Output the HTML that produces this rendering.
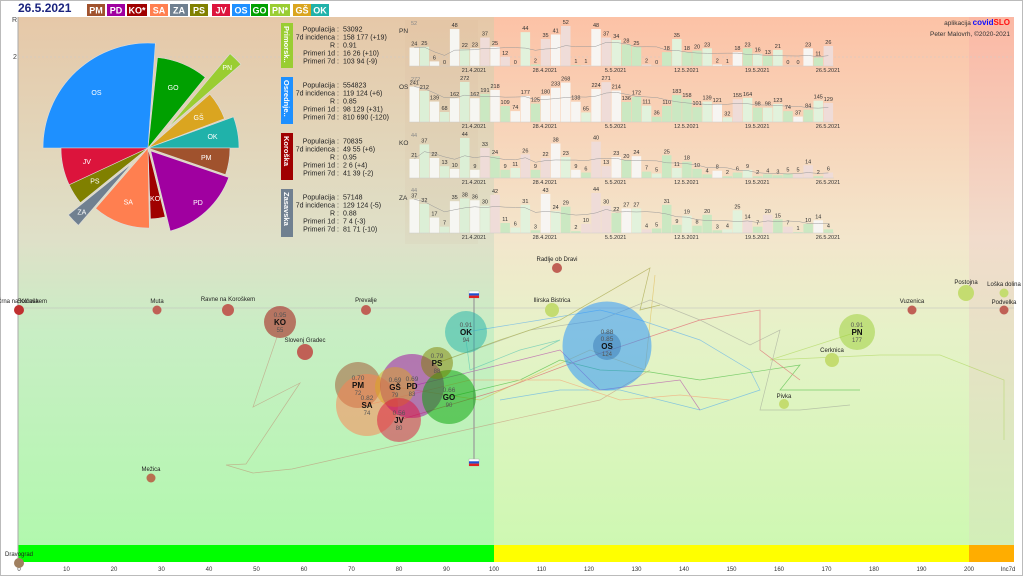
<!DOCTYPE html>
<html><head><meta charset="utf-8"><style>
html,body{margin:0;padding:0;background:#fff;width:1024px;height:576px;overflow:hidden}
svg{display:block;font-family:"Liberation Sans",sans-serif}
</style></head><body>
<svg id="s" width="1024" height="576" viewBox="0 0 1024 576" xmlns="http://www.w3.org/2000/svg">
<defs>
<linearGradient id="gl" x1="0" y1="0" x2="0" y2="1">
<stop offset="0" stop-color="#e6c8a8"/><stop offset="0.42" stop-color="#dfe0c8"/><stop offset="0.6" stop-color="#c8eec4"/><stop offset="1" stop-color="#b2f8ae"/></linearGradient>
<linearGradient id="gr" x1="0" y1="0" x2="0" y2="1">
<stop offset="0" stop-color="#fcc2a6"/><stop offset="0.42" stop-color="#f3e6cc"/><stop offset="0.6" stop-color="#e6f2c8"/><stop offset="1" stop-color="#cef8b2"/></linearGradient>
<linearGradient id="gx" x1="0" y1="0" x2="0" y2="1">
<stop offset="0" stop-color="#fbb8a4"/><stop offset="0.42" stop-color="#f1dccc"/><stop offset="1" stop-color="#d2eeb8"/></linearGradient>
</defs>
<rect x="0.5" y="0.5" width="1022" height="575" fill="#fff" stroke="#bbb"/>
<rect x="18" y="17" width="476" height="528" fill="url(#gl)"/>
<rect x="494" y="17" width="475" height="528" fill="url(#gr)"/>
<rect x="969" y="17" width="45" height="528" fill="url(#gx)"/>
<rect x="18" y="545" width="476" height="17" fill="#00ff00"/>
<rect x="494" y="545" width="475" height="17" fill="#ffff00"/>
<rect x="969" y="545" width="45" height="17" fill="#ffad00"/>
<line x1="18" y1="17" x2="18" y2="562" stroke="#aaa"/>
<line x1="18" y1="57" x2="1014" y2="57" stroke="#ccc" stroke-dasharray="2,2" stroke-width="0.6"/>
<line x1="18" y1="308" x2="1014" y2="308" stroke="#bbb" stroke-width="0.6"/>
<text x="12" y="22" font-size="7" fill="#444">R</text>
<text x="13" y="59" font-size="7" fill="#444">2</text>
<g font-size="6" fill="#333" text-anchor="middle" id="ticks"></g>
<text x="18" y="12" font-size="12" font-weight="bold" fill="#1a237e">26.5.2021</text>
<g id="chips" font-size="9" font-weight="bold" fill="#fff" text-anchor="middle"></g>
<g id="pie"></g>
<g id="bars" font-size="5.5"></g>
<g font-size="7.5" font-weight="bold" fill="#fff">
<rect x="281" y="23" width="12" height="45" fill="#9acd32"/><text transform="translate(284,26) rotate(90)">Primorsk..</text>
<rect x="281" y="77" width="12" height="47" fill="#1e90ff"/><text transform="translate(284,80) rotate(90)">Osrednje..</text>
<rect x="281" y="133" width="12" height="47" fill="#a00000"/><text transform="translate(284,136) rotate(90)">Koroška</text>
<rect x="281" y="189" width="12" height="48" fill="#708090"/><text transform="translate(284,192) rotate(90)">Zasavska</text>
</g>
<g font-size="7" fill="#222" id="info"></g>
<text x="1010" y="25" font-size="6.5" fill="#333" text-anchor="end">aplikacija <tspan fill="#1010ff" font-weight="bold" font-size="8">covid</tspan><tspan fill="#ff1010" font-weight="bold" font-size="8">SLO</tspan></text>
<text x="1010" y="36" font-size="6.5" fill="#333" text-anchor="end">Peter Malovrh, ©2020-2021</text>
<g fill="none" stroke-width="0.7" opacity="0.45">
<polyline stroke="#c07060" points="277,337 253,407 300,383 246,464 226,465 253,473 292,469 420,440 600,400 650,370"/>
<polyline stroke="#9acd32" points="857,332 770,360 880,355 940,355 1004,380 1004,440"/>
<polyline stroke="#daa520" points="655,275 645,370 590,350 480,400 395,387"/>
<polyline stroke="#1e90ff" points="466,332 540,320 600,310 640,320 700,340 750,370 760,390 700,410 620,390 560,390 500,400"/>
<polyline stroke="#00a000" points="449,397 520,380 560,360 600,370 650,372 700,380 800,365 780,390 860,390"/>
<polyline stroke="#888" points="437,363 530,330 600,320 650,300 700,320 750,345 780,330 760,410 800,410 850,405"/>
<polyline stroke="#dc143c" points="399,420 500,390 580,360 700,320 760,310 760,350 800,380"/>
<polyline stroke="#a000a0" points="412,386 520,360 560,350 600,390 680,380 700,410"/>
<polyline stroke="#ff7f50" points="367,405 470,380 560,380 620,400 680,395 730,400"/>
<polyline stroke="#20b2aa" points="466,340 470,370 520,350 560,340 540,350"/>
<polyline stroke="#808000" points="437,363 500,340 560,320 650,268 640,310 660,305"/>
</g>
<line x1="474" y1="297" x2="474" y2="462" stroke="#999" stroke-width="1.2"/>
<g><rect x="469" y="291" width="10" height="7" fill="#fff" stroke="#aaa" stroke-width=".4"/><rect x="469" y="293.3" width="10" height="2.3" fill="#1e50d0"/><rect x="469" y="295.6" width="10" height="2.4" fill="#e02020"/></g>
<g><rect x="469" y="459" width="10" height="7" fill="#fff" stroke="#aaa" stroke-width=".4"/><rect x="469" y="461.3" width="10" height="2.3" fill="#1e50d0"/><rect x="469" y="463.6" width="10" height="2.4" fill="#e02020"/></g>
<g font-size="6" fill="#222" text-anchor="middle">
<circle cx="19" cy="310" r="5" fill="#c03030"/><text x="22" y="303">Črna na Koroškem</text><text x="28" y="303">Solčava</text>
<circle cx="157" cy="310" r="4.5" fill="#c06055"/><text x="157" y="303">Muta</text>
<circle cx="228" cy="310" r="6" fill="#c06055"/><text x="228" y="301">Ravne na Koroškem</text>
<circle cx="366" cy="310" r="5" fill="#c06055"/><text x="366" y="302">Prevalje</text>
<circle cx="305" cy="352" r="8" fill="#c06055"/><text x="305" y="342">Slovenj Gradec</text>
<circle cx="151" cy="478" r="4.5" fill="#b87050"/><text x="151" y="471">Mežica</text>
<circle cx="19" cy="563" r="5" fill="#a08060"/><text x="19" y="556">Dravograd</text>
<circle cx="557" cy="268" r="5" fill="#c06055"/><text x="557" y="261">Radlje ob Dravi</text>
<circle cx="552" cy="310" r="7" fill="#c4dc70"/><text x="552" y="302">Ilirska Bistrica</text>
<circle cx="912" cy="310" r="4.5" fill="#c06055"/><text x="912" y="303">Vuzenica</text>
<circle cx="966" cy="293" r="8" fill="#c4dc70"/><text x="966" y="284">Postojna</text>
<circle cx="1004" cy="293" r="4.5" fill="#c4dc70"/><text x="1004" y="286">Loška dolina</text>
<circle cx="1004" cy="310" r="4.5" fill="#c06055"/><text x="1004" y="304">Podvelka</text>
<circle cx="832" cy="360" r="7" fill="#c4dc70"/><text x="832" y="352">Cerknica</text>
<circle cx="784" cy="404" r="5" fill="#c4dc70"/><text x="784" y="398">Pivka</text>
</g>
<g id="bub" text-anchor="middle"></g>
<text x="1008" y="571" font-size="6" fill="#333" text-anchor="middle">Inc7d</text>
</svg>
<script>
var NS="http://www.w3.org/2000/svg";
function el(p,t,a,txt){var e=document.createElementNS(NS,t);for(var k in a)e.setAttribute(k,a[k]);if(txt!=null)e.textContent=txt;p.appendChild(e);return e;}
var $=function(i){return document.getElementById(i)};
for(var v=0;v<=200;v+=10){el($("ticks"),"text",{x:19+v*4.75,y:571},String(v));}
var chips=[["PM","#a0522d",87,105],["PD","#a000a0",107,125],["KO*","#a00000",127,147],["SA","#ff7f50",150,168],["ZA","#708090",170,188],["PS","#808000",190,208],["JV","#dc143c",212,230],["OS","#1e90ff",232,250],["GO","#00a000",251,268],["PN*","#9acd32",270,290],["GŠ","#daa520",293,311],["OK","#20b2aa",311,329]];
chips.forEach(function(c){el($("chips"),"rect",{x:c[2],y:4,width:c[3]-c[2],height:12,fill:c[1]});el($("chips"),"text",{x:(c[2]+c[3])/2,y:13.5},c[0]);});
var cx=148,cy=148;
var w=[["OS","#1e90ff",180,274,105,0],["GO","#00a000",276,309,91,0],["PN","#9acd32",311,318,125,28],["GŠ","#daa520",319,339,82,0],["OK","#20b2aa",340,360,91,0],["PM","#a0522d",0,19,82,0],["PD","#a000a0",20,75,86,4],["KO","#a00000",76,88,71,0],["SA","#ff7f50",89,131,80,0],["ZA","#708090",132,140,104,22],["PS","#808000",141,155,87,0],["JV","#dc143c",155,180,87,0]];
w.forEach(function(d){var a0=d[2]*Math.PI/180,a1=d[3]*Math.PI/180,r=d[4],e=d[5],am=(a0+a1)/2;
var ox=cx+e*Math.cos(am),oy=cy+e*Math.sin(am);
var p="M"+ox+","+oy+" L"+(cx+r*Math.cos(a0))+","+(cy+r*Math.sin(a0))+" A"+r+","+r+" 0 0 1 "+(cx+r*Math.cos(a1))+","+(cy+r*Math.sin(a1))+" Z";
el($("pie"),"path",{d:p,fill:d[1],stroke:"#ddd","stroke-width":0.6});
var lr=e?r-12:r*0.72;el($("pie"),"text",{x:cx+lr*Math.cos(am),y:cy+lr*Math.sin(am)+2.5,"font-size":7,fill:"#fff","text-anchor":"middle"},d[0]);});
var info=[[29,["53092","158 177 (+19)","0.91","16 26 (+10)","103 94 (-9)"]],[85,["554823","119 124 (+6)","0.85","98 129 (+31)","810 690 (-120)"]],[141,["70835","49 55 (+6)","0.95","2 6 (+4)","41 39 (-2)"]],[197,["57148","129 124 (-5)","0.88","7 4 (-3)","81 71 (-10)"]]];
var labs=["Populacija","7d incidenca","R","Primeri 1d","Primeri 7d"];
info.forEach(function(b){for(var i=0;i<5;i++){var y=b[0]+i*8;el($("info"),"text",{x:335,y:y+2.5,"text-anchor":"end"},labs[i]);el($("info"),"text",{x:337,y:y+2.5},":");el($("info"),"text",{x:343,y:y+2.5},b[1][i]);}});
var rows=[["PN",66,52,[24,25,6,0,48,22,23,37,25,12,0,44,2,35,41,52,1,1,48,37,34,28,25,2,0,18,35,18,20,23,2,1,18,23,16,13,21,0,0,23,11,26]],
["OS",122,272,[241,212,139,68,162,272,162,191,218,109,74,177,125,180,233,268,138,65,224,271,214,136,172,111,36,110,183,158,101,139,121,32,155,164,98,98,123,74,37,84,145,129]],
["KO",178,44,[21,37,22,13,10,44,9,33,24,9,11,26,9,22,38,23,9,6,40,13,23,20,24,7,5,25,11,18,10,4,8,2,6,9,2,4,3,5,5,14,2,6]],
["ZA",233,44,[37,32,17,7,35,38,36,30,42,11,6,31,3,43,24,29,2,10,44,30,22,27,27,4,5,31,9,19,8,20,3,4,25,14,7,20,15,7,1,10,14,4]]];
var B=$("bars");
el(B,"rect",{x:405,y:20,width:73,height:224,fill:"#c8a888",opacity:0.08});
var dates=["21.4.2021","28.4.2021","5.5.2021","12.5.2021","19.5.2021","26.5.2021"];
rows.forEach(function(r){var base=r[1],mx=r[2],v=r[3],sc=40/mx;
el(B,"text",{x:399,y:base-33,"font-size":6.5,fill:"#333"},r[0]);
el(B,"text",{x:411,y:base-41,fill:"#888"},String(mx));
var pts=[];
v.forEach(function(x,i){var bx=409.5+i*10.1,h=x*sc,c;
if(i<7)c=(i%2?"#dcefd6":"#f6f6f2");else{var p=v[i-7];c=x<p*0.8?"#cbe8c2":(x<p?"#e2f2dc":(x>p*1.3?"#efdcd8":"#f7f5f2"));}
el(B,"rect",{x:bx,y:base-h,width:9.5,height:h,fill:c});
el(B,"text",{x:bx+4.75,y:base-h-2,"text-anchor":"middle",fill:"#333"},String(x));
var s=0,n=0;for(var k=Math.max(0,i-6);k<=i;k++){s+=v[k];n++;}pts.push((bx+4.75)+","+(base-s/n*sc));});
el(B,"polyline",{points:pts.join(" "),fill:"none",stroke:"#999","stroke-width":0.5});
el(B,"line",{x1:409,y1:base,x2:834,y2:base,stroke:"#ccc","stroke-width":0.5});
dates.forEach(function(d,j){el(B,"text",{x:474+j*70.8,y:base+6,"text-anchor":"middle",fill:"#333"},d);});});
var bub=[["PM","#a0522d",358,385,23,"0.70","72"],["SA","#ff7f50",367,405,31,"0.82","74"],["PD","#a000a0",412,386,32,"0.69","83"],["GŠ","#daa520",395,387,20,"0.69","79"],["JV","#dc143c",399,420,22,"0.56","80"],["GO","#00a000",449,397,27,"0.66","90"],["PS","#808000",437,363,16,"0.79","88"],["OK","#20b2aa",466,332,21,"0.91","94"],["KO","#a00000",280,322,16,"0.95","55"],["OS","#1e90ff",607,346,44.5,"0.85","124"],["PN","#9acd32",857,332,18,"0.91","177"]];
var G=$("bub");
bub.forEach(function(b){el(G,"circle",{cx:b[2],cy:b[3],r:b[4],fill:b[1],opacity:0.5});});
el(G,"circle",{cx:607,cy:346,r:14,fill:"#3070b0",opacity:0.45});
bub.forEach(function(b){var x=b[2],y=b[3];
el(G,"text",{x:x,y:y-5,"font-size":6.5,fill:"#555"},b[5]);
el(G,"text",{x:x,y:y+3,"font-size":8,"font-weight":"bold",fill:"#111"},b[0]);
el(G,"text",{x:x,y:y+10,"font-size":6,fill:"#555"},b[6]);});
el(G,"text",{x:607,y:334,"font-size":6.5,fill:"#555"},"0.88");
</script>
</body></html>
